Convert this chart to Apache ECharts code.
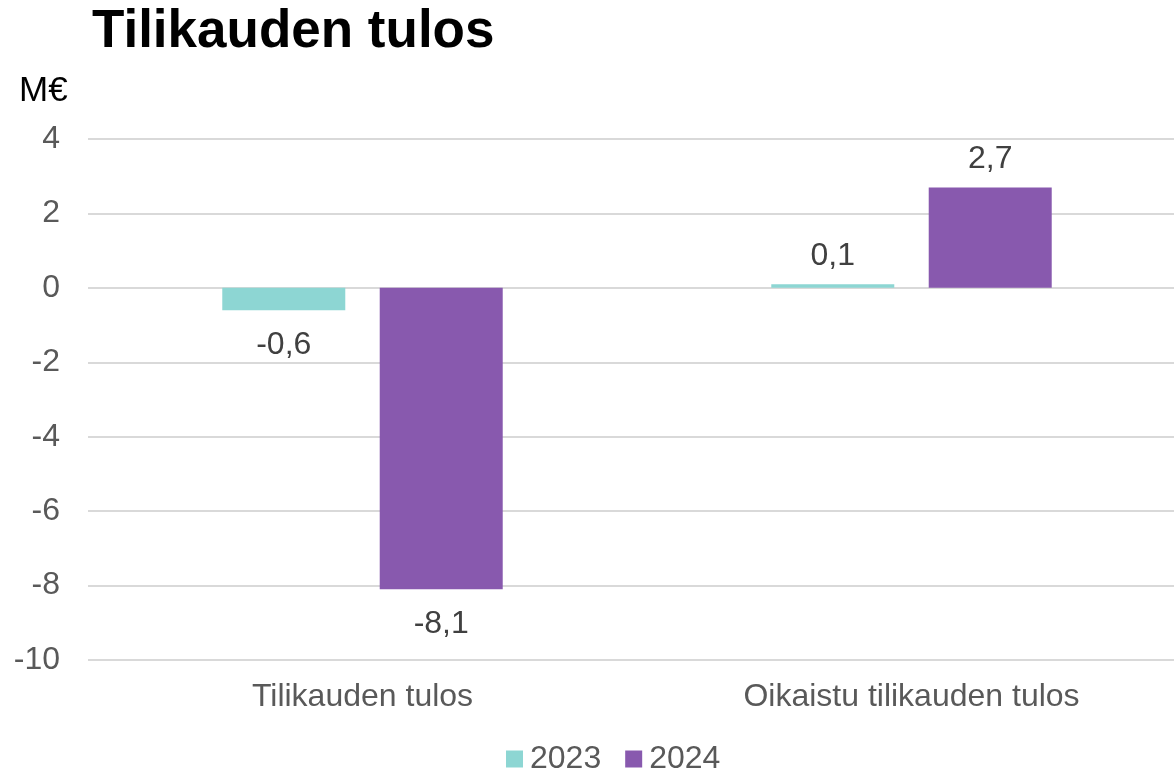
<!DOCTYPE html>
<html>
<head>
<meta charset="utf-8">
<script src="https://cdn.jsdelivr.net/npm/echarts@6/dist/echarts.min.js"></script>
<style>
  html, body { margin: 0; padding: 0; background: #fff; overflow: hidden; }
  /* plot area runs slightly past the right edge, like the original */
  #chart { width: 1186px; height: 772px; }
</style>
</head>
<body>
<div id="chart"></div>
<script>
  // data
  var categories = ['Tilikauden tulos', 'Oikaistu tilikauden tulos'];
  var years = ['2023', '2024'];
  var values2023 = [-0.6, 0.1];
  var values2024 = [-8.1, 2.7];
  var yTicks = [4, 2, 0, -2, -4, -6, -8, -10];

  var colors = ['#8DD6D3', '#8859AE'];
  var font = '"Liberation Sans", Arial, sans-serif';

  // negatiiviset arvot: label palkin alle
  function toItems(arr) {
    return arr.map(function (v) {
      return {
        value: v,
        label: v < 0 ? { position: 'bottom', distance: 19 } : { position: 'top', distance: 12 }
      };
    });
  }

  function fmt(p) {
    return String(p.value).replace('.', ',');
  }

  var myChart = echarts.init(document.getElementById('chart'));
  var option = {
    animation: false,
    color: colors,
    textStyle: { fontFamily: font },
    title: [{
      text: 'Tilikauden tulos',
      left: 87,
      top: 1,
      textStyle: { fontSize: 53, fontWeight: 'bold', color: '#000', fontFamily: font }
    }, {
      text: 'M€',
      left: 14,
      top: 69,
      textStyle: { fontSize: 35, fontWeight: 'normal', color: '#000', fontFamily: font }
    }],
    legend: {
      top: 738,
      left: 501,
      itemWidth: 17,
      itemHeight: 17,
      itemGap: 24,
      icon: 'rect',
      data: years,
      textStyle: { fontSize: 32, color: '#595959', fontFamily: font, padding: [0, 0, 0, 2] }
    },
    grid: {
      left: 88,
      right: 0,
      top: 139,
      bottom: 112
    },
    xAxis: {
      type: 'category',
      data: categories,
      axisLine: { show: false },
      axisTick: { show: false },
      axisLabel: { fontSize: 32, color: '#595959', margin: 21, fontFamily: font }
    },
    yAxis: {
      type: 'value',
      min: yTicks[yTicks.length - 1],
      max: yTicks[0],
      interval: 2,
      axisLine: { show: false },
      axisTick: { show: false },
      splitLine: { lineStyle: { color: '#D9D9D9', width: 2 } },
      axisLabel: { fontSize: 32, color: '#595959', margin: 28, fontFamily: font }
    },
    series: [{
      name: years[0],
      type: 'bar',
      barWidth: 123,
      barGap: '28%',
      data: toItems(values2023),
      label: { show: true, fontSize: 32, color: '#404040', fontFamily: font, formatter: fmt }
    }, {
      name: years[1],
      type: 'bar',
      barWidth: 123,
      barGap: '28%',
      data: toItems(values2024),
      label: { show: true, fontSize: 32, color: '#404040', fontFamily: font, formatter: fmt }
    }]
  };
  myChart.setOption(option);
</script>
</body>
</html>
